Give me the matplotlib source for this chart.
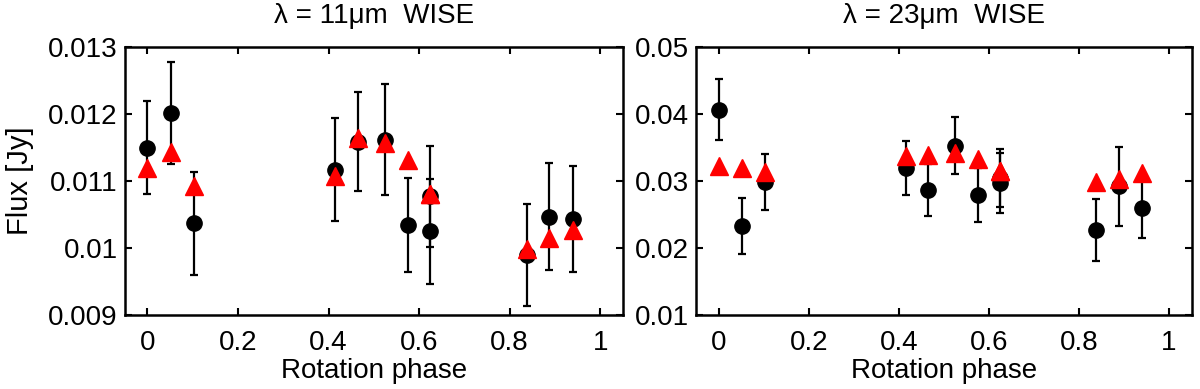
import matplotlib.pyplot as plt
from matplotlib.ticker import FuncFormatter

plt.rcParams['font.family'] = ['Liberation Sans', 'DejaVu Sans']

# rotation phase of each observation (two epochs fall at ~0.625)
phase = [0.0, 0.052, 0.103, 0.415, 0.465, 0.524, 0.576, 0.625, 0.625, 0.838, 0.888, 0.939]

# 11 micron WISE
flux11 = [0.01150, 0.01202, 0.01037, 0.01117, 0.01159, 0.01162, 0.01034, 0.01077, 0.01025, 0.00990, 0.01047, 0.01043]
err11 = [0.00070, 0.00076, 0.00077, 0.00077, 0.00074, 0.00083, 0.00070, 0.00075, 0.00078, 0.00076, 0.00080, 0.00079]
model11 = [0.01120, 0.01144, 0.01092, 0.01108, 0.01164, 0.01157, 0.01131, 0.01080, 0.01080, 0.00999, 0.01015, 0.01027]

# 23 micron WISE
flux23 = [0.04067, 0.02332, 0.02990, 0.03195, 0.02870, 0.03529, 0.02796, 0.03045, 0.02970, 0.02272, 0.02920, 0.02596]
err23 = [0.0046, 0.0042, 0.0042, 0.0041, 0.0039, 0.0042, 0.0040, 0.0043, 0.0045, 0.0046, 0.0059, 0.0045]
model23 = [0.0322, 0.0320, 0.0313, 0.0337, 0.0339, 0.0342, 0.0333, 0.0315, 0.0315, 0.0299, 0.0303, 0.0312]

titles = ['λ = 11μm  WISE', 'λ = 23μm  WISE']
ylims = [(0.009, 0.013), (0.01, 0.05)]
yticks = [[0.009, 0.010, 0.011, 0.012, 0.013], [0.01, 0.02, 0.03, 0.04, 0.05]]

fig = plt.figure(figsize=(12, 3.89), dpi=100)
ax1 = fig.add_axes([0.104, 0.19, 0.415, 0.689])
ax2 = fig.add_axes([0.580, 0.19, 0.413, 0.689])

fmt = FuncFormatter(lambda v, p: '%g' % round(v, 4))

panels = [(ax1, flux11, err11, model11), (ax2, flux23, err23, model23)]
for i, (ax, flux, err, model) in enumerate(panels):
    ax.errorbar(phase, flux, yerr=err, fmt='o', color='black', ms=11,
                elinewidth=1.6, capsize=3, capthick=1.6, zorder=2)
    ax.plot(phase, model, '^', color='red', ms=13, mec='red', zorder=3)
    ax.set_xlim(-0.05, 1.05)
    ax.set_ylim(*ylims[i])
    ax.set_xticks([0, 0.2, 0.4, 0.6, 0.8, 1])
    ax.set_yticks(yticks[i])
    ax.xaxis.set_major_formatter(fmt)
    ax.yaxis.set_major_formatter(fmt)
    ax.tick_params(direction='in', top=True, right=True, length=5, width=1.5,
                   labelsize=20)
    ax.tick_params(axis='x', pad=11)
    ax.tick_params(axis='y', pad=5)
    for s in ax.spines.values():
        s.set_linewidth(1.8)
    ax.set_xlabel('Rotation phase', fontsize=20, labelpad=1)
    ax.set_title(titles[i], fontsize=20, pad=17)

ax1.set_ylabel('Flux [Jy]', fontsize=21, labelpad=10)

fig.savefig('out.png', dpi=100)
